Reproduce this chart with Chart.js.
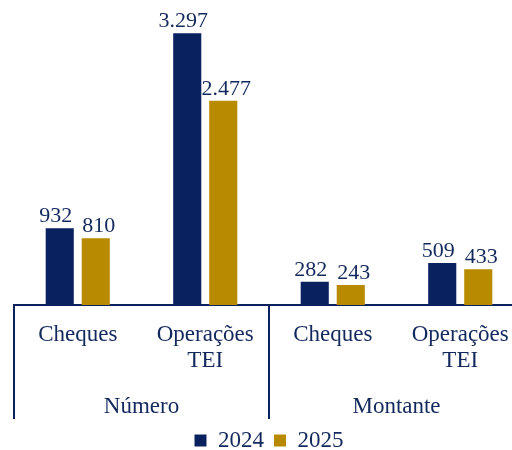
<!DOCTYPE html>
<html>
<head>
<meta charset="utf-8">
<script src="https://cdn.jsdelivr.net/npm/chart.js@4/dist/chart.umd.min.js"></script>
<style>
  html, body { margin: 0; padding: 0; background: #fff; }
  .wrap { width: 512px; height: 450px; overflow: hidden; }
  .box { width: 550px; height: 450px; }
</style>
</head>
<body>
<div class="wrap"><div class="box"><canvas id="chart"></canvas></div></div>
<script>
const categories = [["Cheques"], ["Operações", "TEI"], ["Cheques"], ["Operações", "TEI"]];
const groups = ["Número", "Montante"];
const seriesNames = ["2024", "2025"];
const values2024 = [932, 3297, 282, 509];
const values2025 = [810, 2477, 243, 433];

const navy = "#0A2160";
const gold = "#B88A00";
const textColor = "#13285C";
const serif = "'Liberation Serif', 'Times New Roman', serif";

function fmt(n) {
  return n.toString().replace(/\B(?=(\d{3})+(?!\d))/g, ".");
}

// valores por cima das barras (ligeiro desvio lateral como no original)
const valueLabels = {
  id: 'valueLabels',
  afterDatasetsDraw(chart) {
    const ctx = chart.ctx;
    const shift = [-4, 3];
    ctx.save();
    ctx.font = "22px " + serif;
    ctx.fillStyle = textColor;
    ctx.textAlign = 'center';
    ctx.textBaseline = 'alphabetic';
    chart.data.datasets.forEach((ds, di) => {
      chart.getDatasetMeta(di).data.forEach((bar, i) => {
        ctx.fillText(fmt(ds.data[i]), bar.x + shift[di], bar.y - 6);
      });
    });
    ctx.restore();
  }
};

// separadores e nomes dos grupos
const groupAxis = {
  id: 'groupAxis',
  afterDraw(chart) {
    const ctx = chart.ctx;
    const x = chart.scales.x;
    const area = chart.chartArea;
    const left = area.left;
    const mid = (x.getPixelForValue(1) + x.getPixelForValue(2)) / 2;
    const right = area.right;
    const bottom = area.bottom + 114;
    ctx.save();
    ctx.strokeStyle = navy;
    ctx.lineWidth = 2;
    ctx.beginPath();
    [left, mid, right].forEach(px => {
      ctx.moveTo(px, area.bottom);
      ctx.lineTo(px, bottom);
    });
    ctx.stroke();
    ctx.font = "23px " + serif;
    ctx.fillStyle = textColor;
    ctx.textAlign = 'center';
    ctx.textBaseline = 'middle';
    ctx.fillText(groups[0], (left + mid) / 2, area.bottom + 102);
    ctx.fillText(groups[1], (mid + right) / 2, area.bottom + 102);
    ctx.restore();
  }
};

new Chart(document.getElementById('chart'), {
  type: 'bar',
  data: {
    labels: categories,
    datasets: [{
      label: seriesNames[0],
      data: values2024,
      backgroundColor: navy,
      categoryPercentage: 0.565,
      barPercentage: 0.78,
    }, {
      label: seriesNames[1],
      data: values2025,
      backgroundColor: gold,
      categoryPercentage: 0.565,
      barPercentage: 0.78,
    }]
  },
  options: {
    responsive: true,
    maintainAspectRatio: false,
    animation: false,
    layout: {
      padding: { left: 14, right: 26, top: 0, bottom: -12 }
    },
    scales: {
      x: {
        grid: { display: false },
        border: { display: true, color: navy, width: 2 },
        ticks: {
          color: textColor,
          padding: 8,
          maxRotation: 0,
          autoSkip: false,
          font: { family: serif, size: 23, lineHeight: 1.17 },
        },
        afterFit: scale => { scale.height = 114; }
      },
      y: {
        display: false,
        min: 0,
        max: 3700,
      }
    },
    plugins: {
      legend: {
        position: 'bottom',
        labels: {
          color: textColor,
          boxWidth: 12,
          boxHeight: 12,
          padding: 10,
          font: { family: serif, size: 23 },
        }
      },
      tooltip: { enabled: false }
    }
  },
  plugins: [valueLabels, groupAxis]
});
</script>
</body>
</html>
